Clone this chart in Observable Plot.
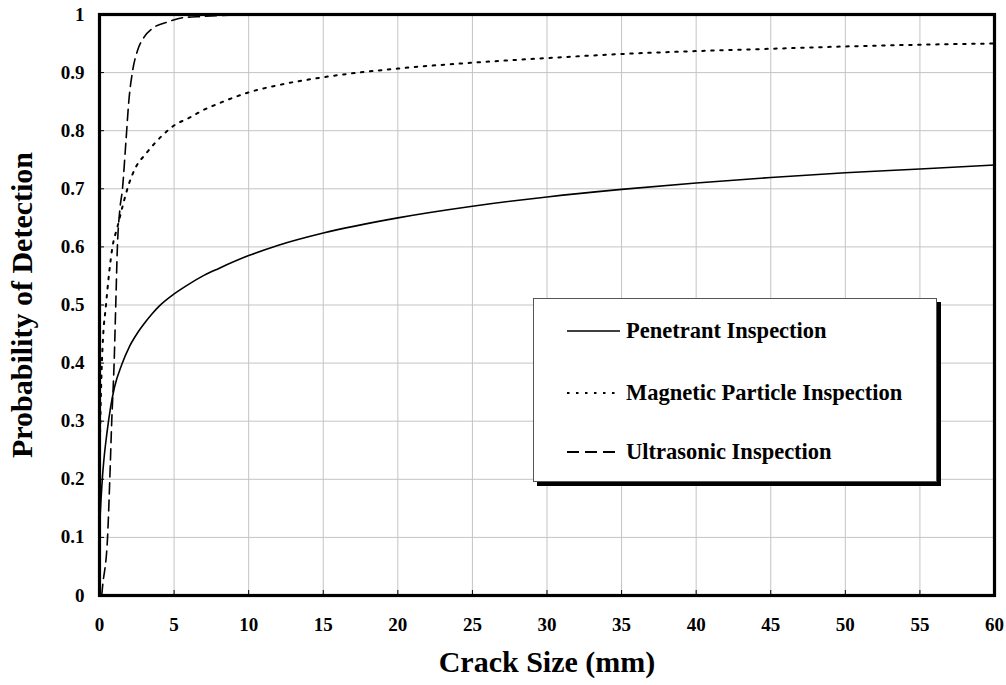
<!DOCTYPE html>
<html>
<head>
<meta charset="utf-8">
<script src="https://cdn.jsdelivr.net/npm/d3@7"></script>
<script src="https://cdn.jsdelivr.net/npm/@observablehq/plot@0.6"></script>
<style>
  html, body { margin: 0; padding: 0; background: #fff; }
  #wrap { position: relative; width: 1006px; height: 685px; font-family: "Liberation Serif", "Times New Roman", serif; font-weight: bold; }
  #legend { position: absolute; left: 533px; top: 298px; width: 402px; height: 182px; background: #fff; border: 1px solid #555; box-shadow: 4px 4px 0 #000; }
  #legend .row { position: absolute; left: 0; height: 30px; display: flex; align-items: center; }
  #legend svg { display: block; }
  #legend span { font-size: 22.5px; margin-left: 6px; color: #000; }
</style>
</head>
<body>
<div id="wrap"></div>
<script>
// ---- data ----
const seriesNames = ["Penetrant Inspection", "Magnetic Particle Inspection", "Ultrasonic Inspection"];

const penetrantX = [0.03, 0.1, 0.2, 0.3, 0.5, 0.75, 1, 1.5, 2, 2.5, 3, 3.5, 4, 5, 6, 7, 8, 10, 12, 15, 20, 25, 30, 35, 40, 45, 50, 55, 60];
const penetrantY = [0.13, 0.165, 0.205, 0.235, 0.28, 0.325, 0.358, 0.398, 0.428, 0.45, 0.468, 0.484, 0.498, 0.519, 0.536, 0.551, 0.563, 0.585, 0.603, 0.624, 0.650, 0.670, 0.686, 0.699, 0.710, 0.7195, 0.7275, 0.734, 0.741];

const magneticX = [0.02, 0.08, 0.15, 0.24, 0.42, 0.64, 0.87, 1.2, 1.65, 1.98, 2.43, 3.1, 4.22, 5, 6, 7, 8, 10, 12.2, 15, 20, 25, 30, 35, 40, 45, 50, 55, 60];
const magneticY = [0.25, 0.33, 0.393, 0.445, 0.496, 0.554, 0.600, 0.634, 0.680, 0.709, 0.737, 0.760, 0.792, 0.809, 0.822, 0.836, 0.847, 0.866, 0.8795, 0.892, 0.907, 0.917, 0.925, 0.932, 0.937, 0.941, 0.945, 0.948, 0.950];

const ultrasonicX = [0.15, 0.2, 0.54, 0.69, 0.82, 0.98, 1.09, 1.2, 1.36, 1.54, 1.76, 1.98, 2.2, 2.55, 2.99, 3.66, 4.55, 5.56, 6.9, 8.7];
const ultrasonicY = [0, 0.014, 0.10, 0.20, 0.30, 0.40, 0.50, 0.60, 0.663, 0.70, 0.777, 0.855, 0.90, 0.938, 0.961, 0.978, 0.987, 0.9945, 0.9966, 0.999];

const xTicks = [0, 5, 10, 15, 20, 25, 30, 35, 40, 45, 50, 55, 60];
const yTicks = [0, 0.1, 0.2, 0.3, 0.4, 0.5, 0.6, 0.7, 0.8, 0.9, 1];
const xTitle = "Crack Size (mm)";
const yTitle = "Probability of Detection";

// ---- build tables ----
const toRows = (xs, ys) => xs.map((x, i) => ({x, y: ys[i]}));
const penetrant = toRows(penetrantX, penetrantY);
const magnetic = toRows(magneticX, magneticY);
const ultrasonic = toRows(ultrasonicX, ultrasonicY);

const font = '"Liberation Serif", "Times New Roman", serif';

const chart = Plot.plot({
  width: 1006,
  height: 685,
  marginLeft: 99,
  marginRight: 12,
  marginTop: 14,
  marginBottom: 90,
  style: {fontFamily: font, fontWeight: "bold", fontSize: "19px", color: "#000", background: "#fff"},
  x: {domain: [0, 60]},
  y: {domain: [0, 1]},
  marks: [
    Plot.ruleX(xTicks, {x: d => d, stroke: "#c4c4c4", strokeWidth: 1}),
    Plot.ruleY(yTicks, {y: d => d, stroke: "#c4c4c4", strokeWidth: 1}),
    Plot.line(penetrant, {x: "x", y: "y", stroke: "#000", strokeWidth: 1.6, curve: "monotone-x"}),
    Plot.line(magnetic, {x: "x", y: "y", stroke: "#000", strokeWidth: 2, strokeDasharray: "2.5 6.5", curve: "monotone-x"}),
    Plot.line(ultrasonic, {x: "x", y: "y", stroke: "#000", strokeWidth: 1.6, strokeDasharray: "11 6", curve: "monotone-x"}),
    Plot.axisX(xTicks, {tickSize: -5, tickPadding: 27, tickFormat: d => String(d), label: null, stroke: "#000", fontSize: 19, fontWeight: "bold"}),
    Plot.axisY(yTicks, {tickSize: -5, tickPadding: 20, tickFormat: d => String(d), label: null, stroke: "#000", fontSize: 19, fontWeight: "bold"}),
    Plot.frame({stroke: "#000", strokeWidth: 3.2}),
    Plot.text([xTitle], {frameAnchor: "bottom", textAnchor: "middle", lineAnchor: "middle", dy: 67, fontSize: 30, fontWeight: "bold", fill: "#000"}),
    Plot.text([yTitle], {frameAnchor: "left", textAnchor: "middle", lineAnchor: "middle", dx: -77, rotate: -90, fontSize: 30, fontWeight: "bold", fill: "#000"})
  ]
});
const wrap = document.getElementById("wrap");
wrap.appendChild(chart);

// ---- legend ----
const legend = document.createElement("div");
legend.id = "legend";
const rowsTop = [17, 79, 138];
const dashes = [null, "2.5 6.5", "12 6"];
const widths = [1.6, 2, 1.8];
seriesNames.forEach((name, i) => {
  const row = document.createElement("div");
  row.className = "row";
  row.style.top = rowsTop[i] + "px";
  row.style.left = "33px";
  const ns = "http://www.w3.org/2000/svg";
  const svg = document.createElementNS(ns, "svg");
  svg.setAttribute("width", "53");
  svg.setAttribute("height", "30");
  const ln = document.createElementNS(ns, "line");
  ln.setAttribute("x1", "0"); ln.setAttribute("x2", "53");
  ln.setAttribute("y1", "15"); ln.setAttribute("y2", "15");
  ln.setAttribute("stroke", "#000");
  ln.setAttribute("stroke-width", widths[i]);
  if (dashes[i]) ln.setAttribute("stroke-dasharray", dashes[i]);
  svg.appendChild(ln);
  row.appendChild(svg);
  const sp = document.createElement("span");
  sp.textContent = name;
  row.appendChild(sp);
  legend.appendChild(row);
});
wrap.appendChild(legend);
</script>
</body>
</html>
